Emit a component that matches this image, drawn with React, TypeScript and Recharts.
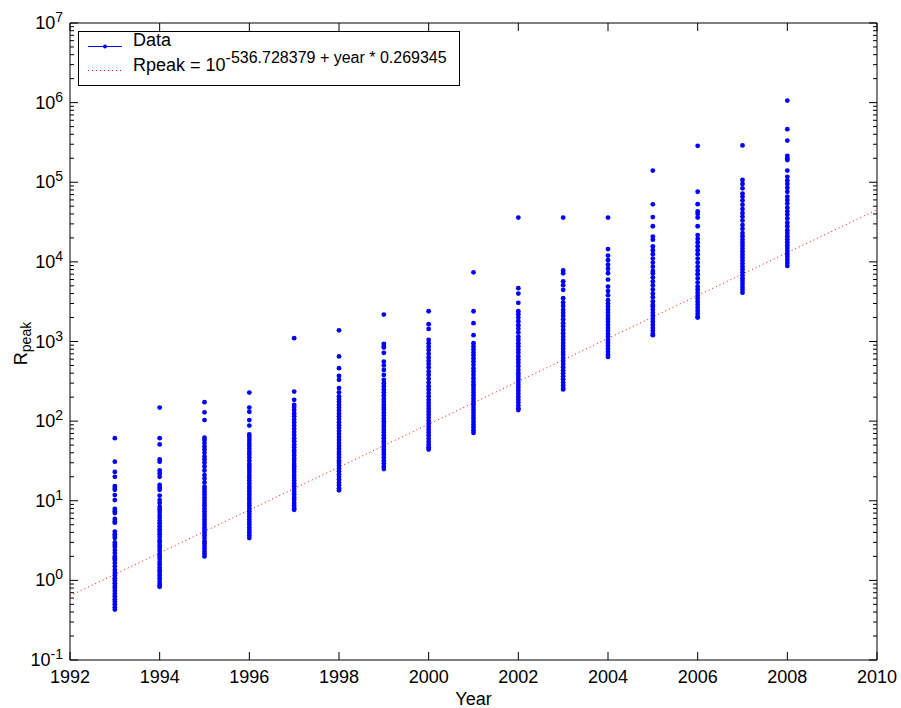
import { ComposedChart, Line, Scatter, XAxis, YAxis } from 'recharts';

const FONT = '"Liberation Sans", Arial, Helvetica, sans-serif';

// x axis
const xTicks = [1992, 1994, 1996, 1998, 2000, 2002, 2004, 2006, 2008, 2010];

// y axis (log): decades, plus 2..9 minor ticks between them
const decadeTicks = [0.1, 1, 10, 100, 1e3, 1e4, 1e5, 1e6, 1e7];
const minorSteps = [2, 3, 4, 5, 6, 7, 8, 9];
const yTicks = decadeTicks.flatMap((d, i) =>
  i === decadeTicks.length - 1 ? [d] : [d, ...minorSteps.map((m) => m * d)]
);

// Rpeak values read per list year
const r1993 = [61, 31, 23, 20, 15.3, 14.5, 13.7, 11.8, 10.2, 7.9, 7.4, 7.0, 5.9, 5.5, 5.3, 4.1, 3.8, 3.6, 3.4, 3.0, 2.8, 2.65, 2.4, 2.2, 2.0, 1.9, 1.8, 1.65, 1.5, 1.35, 1.24, 1.15, 1.06, 1.0, 0.92, 0.85, 0.8, 0.74, 0.68, 0.63, 0.58, 0.54, 0.5, 0.46, 0.43];
const r1994 = [148, 61, 51, 33, 31, 24, 22, 20, 15.8, 14.7, 13.7, 11.6, 10.2, 9.4, 8.4, 7.8, 7.2, 6.6, 6.1, 5.6, 5.2, 4.8, 4.4, 4.1, 3.8, 3.5, 3.2, 3.0, 2.75, 2.55, 2.35, 2.15, 2.0, 1.85, 1.7, 1.58, 1.45, 1.34, 1.24, 1.15, 1.06, 0.98, 0.91, 0.85, 0.83];
const r1995 = [173, 129, 103, 62, 58, 53, 48, 44, 40, 36, 33, 30, 27, 24, 21, 19, 17, 15, 14, 13, 12, 11, 10.2, 9.4, 8.7, 8.0, 7.4, 6.8, 6.3, 5.8, 5.4, 5.0, 4.6, 4.3, 4.0, 3.7, 3.4, 3.1, 2.9, 2.7, 2.5, 2.3, 2.15, 2.0];
const r1996 = [228, 148, 131, 103, 88, 68, 63, 58, 53, 49, 45, 41, 38, 35, 32, 29, 27, 25, 23, 21, 19.5, 18, 16.5, 15, 14, 13, 12, 11, 10.2, 9.4, 8.7, 8.0, 7.4, 6.8, 6.3, 5.8, 5.4, 5.0, 4.6, 4.3, 4.0, 3.7, 3.4];
const r1997 = [1100, 235, 185, 160, 150, 138, 125, 115, 104, 96, 88, 80, 73, 67, 61, 56, 51, 47, 43, 40, 37, 34, 31.5, 29, 27, 25, 23, 21, 19.5, 18, 16.5, 15.2, 14, 13, 12, 11, 10.2, 9.4, 8.7, 8.1, 7.7];
const r1998 = [1380, 650, 462, 370, 330, 260, 230, 205, 190, 175, 160, 148, 136, 125, 115, 106, 97, 89, 82, 75, 69, 63, 58, 53, 49, 45, 41, 38, 35, 32, 30, 27.5, 25.5, 23.5, 21.5, 20, 18.5, 17, 15.6, 14.4, 13.5];
const r1999 = [2180, 935, 880, 840, 720, 560, 500, 440, 380, 330, 300, 275, 250, 230, 210, 190, 175, 160, 150, 140, 128, 118, 108, 100, 92, 85, 78, 72, 66, 61, 56, 52, 48, 44, 41, 38, 35, 32, 29.5, 27, 25];
const r2000 = [2400, 1650, 1440, 1050, 950, 860, 780, 700, 630, 570, 520, 470, 420, 380, 340, 305, 275, 250, 225, 205, 185, 170, 156, 143, 131, 120, 110, 101, 93, 85, 78, 72, 66, 60, 55, 51, 47, 44];
const r2001 = [7400, 2400, 1700, 1200, 950, 870, 800, 730, 670, 610, 560, 510, 460, 420, 380, 345, 315, 290, 270, 248, 228, 210, 193, 177, 163, 150, 138, 127, 117, 108, 99, 91, 84, 77, 71];
const r2002 = [36000, 4670, 4000, 3060, 2400, 2200, 2000, 1800, 1600, 1450, 1300, 1150, 1050, 950, 870, 790, 720, 650, 590, 540, 490, 440, 400, 368, 338, 310, 285, 262, 240, 220, 202, 186, 171, 157, 145, 138];
const r2003 = [36000, 7800, 7200, 5700, 5100, 4450, 3500, 3100, 2800, 2500, 2300, 2100, 1900, 1700, 1550, 1400, 1270, 1150, 1050, 960, 880, 810, 740, 680, 620, 570, 520, 475, 435, 400, 365, 335, 305, 280, 260, 250];
const r2004 = [36000, 14500, 12000, 10500, 9200, 8200, 7200, 6000, 4900, 4300, 3800, 3300, 3000, 2750, 2520, 2300, 2100, 1930, 1770, 1620, 1480, 1360, 1250, 1150, 1050, 965, 885, 810, 745, 685, 640];
const r2005 = [140000, 52800, 36500, 28000, 20800, 19000, 15700, 14000, 12500, 11000, 9800, 8700, 7700, 7200, 6400, 5700, 5100, 4500, 4000, 3600, 3200, 2900, 2750, 2520, 2300, 2100, 1930, 1770, 1620, 1480, 1360, 1250, 1200];
const r2006 = [287000, 76000, 53000, 43000, 40000, 36000, 28000, 21700, 19500, 17500, 15700, 14000, 12500, 11000, 9800, 8700, 7800, 7000, 6200, 5500, 4900, 4500, 4100, 3750, 3450, 3150, 2900, 2650, 2430, 2230, 2050, 2000];
const r2007 = [290000, 107000, 95000, 84000, 72000, 66000, 59000, 52000, 46000, 41000, 37000, 33000, 29000, 26000, 23000, 21000, 19000, 17400, 16000, 14700, 13500, 12400, 11400, 10500, 9600, 8800, 8100, 7400, 6800, 6250, 5750, 5300, 4850, 4450, 4100];
const r2008 = [1060000, 464000, 334000, 215000, 200000, 190000, 140000, 117000, 105000, 95000, 85000, 76000, 66000, 60000, 54000, 48000, 43000, 39000, 35000, 31000, 28000, 25000, 23000, 21000, 19300, 17700, 16200, 14900, 13700, 12600, 11600, 10600, 9700, 8900];

const years = [1993, 1994, 1995, 1996, 1997, 1998, 1999, 2000, 2001, 2002, 2003, 2004, 2005, 2006, 2007, 2008];
const rpeakByYear = [r1993, r1994, r1995, r1996, r1997, r1998, r1999, r2000, r2001, r2002, r2003, r2004, r2005, r2006, r2007, r2008];

// fitted trend line end points
const fitYears = [1992, 2010];
const fitRpeak = [0.641, 45190];

const scatterData = years.flatMap((yr, i) => rpeakByYear[i].map((v) => ({ year: yr, rpeak: v })));
const fitData = fitYears.map((yr, i) => ({ year: yr, rpeak: fitRpeak[i] }));

function isDecade(v: number) {
  const l = Math.log10(v);
  return Math.abs(l - Math.round(l)) < 1e-6;
}

function BottomTick({ x, y, payload }: any) {
  return (
    <g>
      <line x1={x} y1={y} x2={x} y2={y - 8} stroke="#000" />
      <text x={x} y={y + 23} textAnchor="middle" fontSize={18} fontFamily={FONT} fill="#000">
        {payload.value}
      </text>
    </g>
  );
}

function TopTick({ x, y }: any) {
  return <line x1={x} y1={y} x2={x} y2={y + 8} stroke="#000" />;
}

function LeftTick({ x, y, payload }: any) {
  const major = isDecade(payload.value);
  const e = Math.round(Math.log10(payload.value));
  return (
    <g>
      <line x1={x} y1={y} x2={x + (major ? 8 : 4)} y2={y} stroke="#000" />
      {major && (
        <text x={x - 7} y={y + 6} textAnchor="end" fontSize={18} fontFamily={FONT} fill="#000">
          <tspan>10</tspan>
          <tspan dy={-7} fontSize={14}>{String(e)}</tspan>
        </text>
      )}
    </g>
  );
}

function RightTick({ x, y, payload }: any) {
  const major = isDecade(payload.value);
  return <line x1={x} y1={y} x2={x - (major ? 8 : 4)} y2={y} stroke="#000" />;
}

function Dot(props: any) {
  return <circle cx={props.cx} cy={props.cy} r={2.4} fill="#0000ff" />;
}

function Legendbox() {
  return (
    <div
      style={{
        position: 'absolute',
        left: 78,
        top: 31,
        width: 382,
        height: 55,
        boxSizing: 'border-box',
        border: '1px solid #000',
        background: '#fff',
      }}
    >
      <svg width={380} height={53} style={{ display: 'block', overflow: 'visible' }}>
        <line x1={9} y1={14.5} x2={43} y2={14.5} stroke="#0000ff" />
        <circle cx={26} cy={14.5} r={2} fill="#0000ff" />
        <text x={54} y={13.5} fontSize={18} fontFamily={FONT} fill="#000">Data</text>
        <line x1={9} y1={38.5} x2={43} y2={38.5} stroke="#ff0000" strokeDasharray="1 3" />
        <text x={54} y={39} fontSize={18} fontFamily={FONT} fill="#000">
          <tspan>Rpeak = 10</tspan>
          <tspan dy={-8} fontSize={16}>-536.728379 + year * 0.269345</tspan>
        </text>
      </svg>
    </div>
  );
}

export default function App() {
  return (
    <div style={{ position: 'absolute', left: 0, top: 0, width: 901, height: 708, background: '#fff' }}>
      <ComposedChart width={901} height={708} margin={{ top: 22, right: 23, bottom: 0, left: 0 }}>
        <XAxis
          xAxisId="bottom"
          type="number"
          dataKey="year"
          domain={[1992, 2010]}
          ticks={xTicks}
          interval={0}
          allowDataOverflow
          height={48}
          tickSize={0}
          tickMargin={0}
          tickLine={false}
          tick={BottomTick}
          axisLine={{ stroke: '#000' }}
          label={{
            content: ({ viewBox }: any) => (
              <text
                x={viewBox.x + viewBox.width / 2}
                y={viewBox.y + 45}
                textAnchor="middle"
                fontSize={18}
                fontFamily={FONT}
                fill="#000"
              >
                Year
              </text>
            ),
          }}
        />
        <XAxis
          xAxisId="top"
          orientation="top"
          type="number"
          dataKey="year"
          domain={[1992, 2010]}
          ticks={xTicks}
          interval={0}
          allowDataOverflow
          height={1}
          tickSize={0}
          tickMargin={0}
          tickLine={false}
          tick={TopTick}
          axisLine={{ stroke: '#000' }}
        />
        <YAxis
          yAxisId="left"
          type="number"
          scale="log"
          domain={[0.1, 1e7]}
          ticks={yTicks}
          interval={0}
          allowDataOverflow
          width={70}
          tickSize={0}
          tickMargin={0}
          tickLine={false}
          tick={LeftTick}
          axisLine={{ stroke: '#000' }}
          label={{
            content: ({ viewBox }: any) => {
              const cx = viewBox.x + 27;
              const cy = viewBox.y + viewBox.height / 2 + 2;
              return (
                <text
                  x={cx}
                  y={cy}
                  transform={`rotate(-90, ${cx}, ${cy})`}
                  textAnchor="middle"
                  fontSize={18}
                  fontFamily={FONT}
                  fill="#000"
                >
                  <tspan>R</tspan>
                  <tspan dy={4} fontSize={14}>peak</tspan>
                </text>
              );
            },
          }}
        />
        <YAxis
          yAxisId="right"
          orientation="right"
          type="number"
          scale="log"
          domain={[0.1, 1e7]}
          ticks={yTicks}
          interval={0}
          allowDataOverflow
          width={1}
          tickSize={0}
          tickMargin={0}
          tickLine={false}
          tick={RightTick}
          axisLine={{ stroke: '#000' }}
        />
        <Line
          data={fitData}
          xAxisId="top"
          yAxisId="right"
          dataKey="rpeak"
          type="linear"
          stroke="#ff0000"
          strokeWidth={1}
          strokeDasharray="1 3"
          dot={false}
          isAnimationActive={false}
        />
        <Scatter
          data={scatterData}
          xAxisId="bottom"
          yAxisId="left"
          dataKey="rpeak"
          shape={Dot}
          isAnimationActive={false}
        />
      </ComposedChart>
      <Legendbox />
    </div>
  );
}
